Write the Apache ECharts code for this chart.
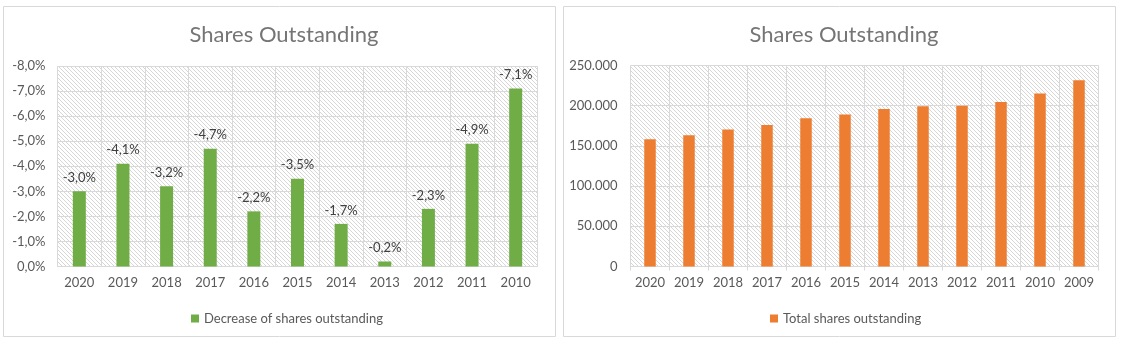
<!DOCTYPE html>
<html>
<head>
<meta charset="utf-8">
<script src="https://cdn.jsdelivr.net/npm/echarts@6/dist/echarts.min.js"></script>
<style>
html,body{margin:0;padding:0;background:#fff;}
#c{width:1121px;height:345px;}
</style>
</head>
<body>
<div id="c"></div>
<script>
// ---- data ----
const years = ['2020','2019','2018','2017','2016','2015','2014','2013','2012','2011','2010'];
const decrease = [-3.0,-4.1,-3.2,-4.7,-2.2,-3.5,-1.7,-0.2,-2.3,-4.9,-7.1];
const yearsTotal = ['2020','2019','2018','2017','2016','2015','2014','2013','2012','2011','2010','2009'];
const totalShares = [158300,163200,170300,175900,184500,189000,195900,199400,199800,204500,215200,231700];
const titleText = 'Shares Outstanding';
const legendLeft = 'Decrease of shares outstanding';
const legendRight = 'Total shares outstanding';

// ---- hatch pattern ----
const pc = document.createElement('canvas');
pc.width = 8; pc.height = 8;
const px = pc.getContext('2d');
px.fillStyle = '#ffffff'; px.fillRect(0,0,8,8);
px.fillStyle = '#d6d6d6';
for (let i = 0; i < 8; i++) { px.fillRect(i, i, 1, 1); px.fillRect((i+4)%8, i, 1, 1); }
const hatch = {image: pc, repeat: 'repeat'};

const FONT = 'Lato';
const GRID = '#d9d9d9';
const TXT = '#595959';
const pct = v => (Math.abs(v) < 1e-9 ? '0,0' : v.toFixed(1).replace('.', ',')) + '%';
const thou = v => String(Math.round(v)).replace(/\B(?=(\d{3})+(?!\d))/g, '.');

const chart = echarts.init(document.getElementById('c'), null, {renderer: 'canvas'});
chart.setOption({
  animation: false,
  textStyle: {fontFamily: FONT},
  graphic: [
    {type: 'rect', shape: {x: 3.5, y: 6.5, width: 552, height: 330}, style: {fill: 'none', stroke: GRID, lineWidth: 1}, z: -1},
    {type: 'rect', shape: {x: 563.5, y: 6.5, width: 552, height: 330}, style: {fill: 'none', stroke: GRID, lineWidth: 1}, z: -1}
  ],
  title: [
    {text: titleText, left: 279, top: 19, textAlign: 'center', textStyle: {fontFamily: FONT, fontSize: 22, fontWeight: 'normal', color: '#757575'}},
    {text: titleText, left: 839, top: 19, textAlign: 'center', textStyle: {fontFamily: FONT, fontSize: 22, fontWeight: 'normal', color: '#757575'}}
  ],
  legend: [
    {data: [legendLeft], left: 186, top: 307, icon: 'rect', itemWidth: 8, itemHeight: 8, itemGap: 10,
     textStyle: {fontFamily: FONT, fontSize: 13, color: TXT}},
    {data: [legendRight], left: 765, top: 307, icon: 'rect', itemWidth: 8, itemHeight: 8, itemGap: 10,
     textStyle: {fontFamily: FONT, fontSize: 13, color: TXT}}
  ],
  grid: [
    {left: 57.5, right: 583.5, top: 66, bottom: 78.5, show: true, backgroundColor: hatch, borderWidth: 0},
    {left: 630.5, right: 22.5, top: 65.5, bottom: 78.5, show: true, backgroundColor: hatch, borderWidth: 0}
  ],
  xAxis: [
    {type: 'category', gridIndex: 0, data: years,
     axisLine: {lineStyle: {color: GRID}}, axisTick: {show: false, interval: 0},
     splitLine: {show: true, interval: 0, lineStyle: {color: GRID}},
     axisLabel: {interval: 0, color: TXT, fontSize: 13, fontFamily: FONT, margin: 10}},
    {type: 'category', gridIndex: 1, data: yearsTotal,
     axisLine: {lineStyle: {color: GRID}}, axisTick: {show: true, interval: 0, length: 4, lineStyle: {color: GRID}},
     splitLine: {show: true, interval: 0, lineStyle: {color: GRID}},
     axisLabel: {interval: 0, color: TXT, fontSize: 13, fontFamily: FONT, margin: 10}}
  ],
  yAxis: [
    {type: 'value', gridIndex: 0, min: -8, max: 0, interval: 1, inverse: true,
     axisLine: {show: false}, axisTick: {show: false},
     splitLine: {lineStyle: {color: GRID}},
     axisLabel: {color: TXT, fontSize: 13, fontFamily: FONT, margin: 12, formatter: pct}},
    {type: 'value', gridIndex: 1, min: 0, max: 250000, interval: 50000,
     axisLine: {show: false}, axisTick: {show: false},
     splitLine: {lineStyle: {color: GRID}},
     axisLabel: {color: TXT, fontSize: 13, fontFamily: FONT, margin: 13, formatter: thou}}
  ],
  series: [
    {name: legendLeft, type: 'bar', xAxisIndex: 0, yAxisIndex: 0, data: decrease, barWidth: 13,
     itemStyle: {color: '#70ad47'},
     label: {show: true, position: 'top', distance: 7, color: '#404040', fontSize: 13, fontFamily: FONT,
             formatter: p => pct(p.value)}},
    {name: legendRight, type: 'bar', xAxisIndex: 1, yAxisIndex: 1, data: totalShares, barWidth: 11.5,
     itemStyle: {color: '#ed7d31'}}
  ]
});
</script>
</body>
</html>
